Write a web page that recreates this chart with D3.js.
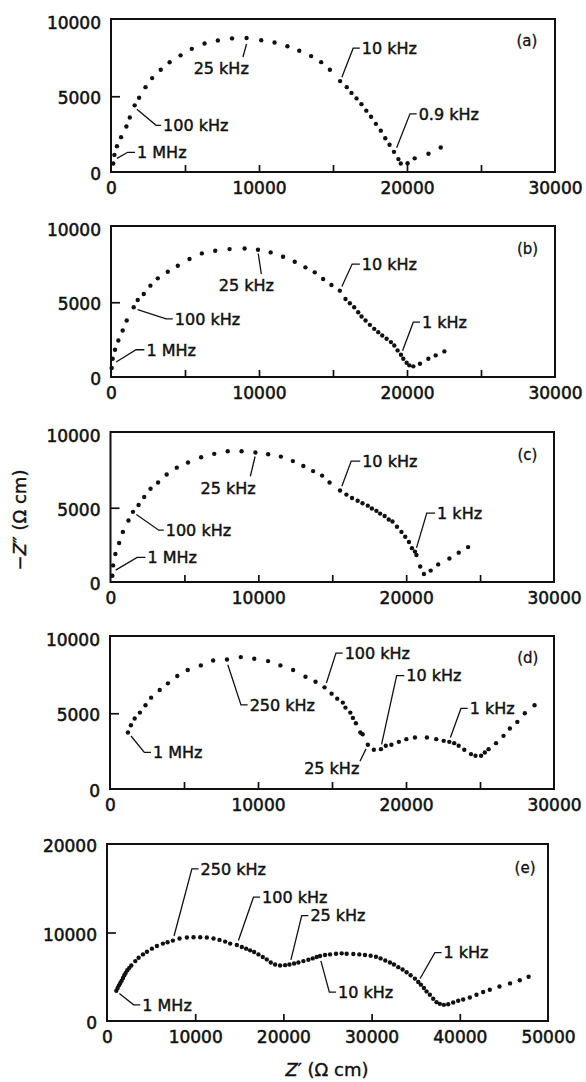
<!DOCTYPE html>
<html>
<head>
<meta charset="utf-8">
<script src="https://cdn.jsdelivr.net/npm/d3@7/dist/d3.min.js"></script>
<style>
  body { margin: 0; background: #fff; }
  svg { display: block; }
  text { font-family: "DejaVu Sans", sans-serif; fill: #111; stroke: #111; }
</style>
</head>
<body>
<svg id="chart"></svg>
<script>
const width = 586;
const height = 1082;

// panel (a)
const aZr = [150,230,400,680,1040,1270,1600,1900,2330,2780,3360,3960,4700,5460,6320,7220,8180,9160,10150,11050,11920,12720,13520,14200,14790,15480,15930,16250,16590,16920,17250,17570,17900,18230,18530,18820,19120,19420,19580,20040,20520,21450,22280];
const aZi = [560,1130,1700,2300,3000,3600,4400,4900,5600,6200,6750,7240,7700,8130,8480,8680,8820,8850,8700,8550,8300,8000,7650,7250,6750,6000,5600,5220,4860,4480,4050,3650,3180,2730,2230,1800,1330,850,560,580,900,1200,1620];

// panel (b)
const bZr = [45,113,271,497,790,1061,1535,1806,2212,2663,3160,3837,4514,5304,6139,7042,8012,9028,9931,10788,11624,12414,13136,13768,14332,14896,15461,15844,16138,16431,16702,16928,17198,17492,17785,18056,18327,18620,18914,19140,19366,19591,19749,19975,20155,20426,20878,21442,21938,22525];
const bZi = [600,1222,1822,2444,3111,3777,4666,5155,5555,6110,6599,7044,7444,7888,8266,8444,8555,8599,8510,8333,8044,7710,7333,6999,6555,6155,5777,5222,4933,4666,4333,4044,3777,3489,3222,3000,2778,2555,2333,2111,1778,1489,1222,955,778,711,889,1222,1444,1711];

// panel (c)
const cZr = [127,177,329,583,836,1216,1520,1900,2280,2710,3217,3800,4483,5243,6130,7017,7929,8866,9803,10664,11525,12336,13045,13704,14312,14818,15527,15958,16338,16718,17047,17402,17681,17985,18238,18542,18820,19073,19377,19681,19935,20188,20391,20594,20695,20948,21202,21658,22164,22924,23557,24190];
const cZi = [419,1117,1884,2628,3373,4140,4722,5187,5722,6280,6699,7234,7699,8048,8397,8629,8800,8800,8720,8600,8443,8141,7815,7466,7164,6699,6164,5885,5652,5466,5303,5140,4954,4792,4606,4443,4210,4071,3722,3373,3047,2698,2279,2047,1814,1047,535,768,1186,1582,1977,2349];

// panel (d)
const dZr = [1212,1414,1667,2020,2399,2778,3358,3914,4545,5252,6136,6969,7903,8838,9747,10681,11514,12373,13206,13888,14494,14973,15352,15731,15908,16236,16413,16615,16918,17069,17423,17827,18306,18635,19013,19518,20023,20604,21412,22043,22548,22927,23255,23558,23937,24392,24694,25073,25326,25578,26083,26588,27018,27523,28028,28684];
const dZi = [3728,4211,4649,5044,5526,6031,6535,6974,7456,7851,8158,8487,8553,8706,8597,8443,8158,7851,7412,7083,6711,6294,5965,5702,5373,5044,4693,4342,3728,3618,2917,2588,2632,2851,2917,3114,3290,3399,3399,3290,3180,3114,3026,2851,2588,2303,2193,2193,2412,2632,3026,3509,3991,4430,4999,5526];

// panel (e)
const eZr = [1057,1208,1359,1510,1661,1812,1962,2113,2302,2529,2755,3208,3585,4076,4529,5095,5661,6340,6869,7473,8227,9058,9812,10567,11322,12077,12756,13398,13964,14719,15285,15775,16228,16681,17172,17662,18115,18568,19059,19625,20191,20682,21210,21701,22267,22833,23323,23776,24154,24720,25286,25965,26607,27173,27928,28607,29249,29890,30494,31022,31551,32079,32532,33023,33513,33966,34419,34910,35287,35589,35928,36230,36608,36985,37363,37740,38193,38684,39250,39816,40382,41137,41891,42646,43401,44500,45700,46800,47800];
const eZi = [3422,3726,4030,4296,4562,4867,5171,5437,5741,6007,6273,6768,7148,7528,7832,8174,8478,8745,8897,9087,9315,9429,9467,9467,9429,9315,9163,8973,8745,8593,8364,8174,7984,7794,7528,7224,6958,6615,6387,6273,6311,6387,6501,6615,6768,6920,7072,7224,7338,7452,7528,7604,7642,7604,7566,7528,7452,7376,7262,7072,6844,6615,6387,6083,5817,5513,5171,4791,4410,4106,3726,3346,2966,2509,2129,1939,1825,1901,2091,2281,2433,2661,2966,3270,3536,3900,4250,4600,5000];

// frequency annotations: leader points (Z', -Z'') and label
const aNotes = [
  {t: '1 MHz', pts: [[400,900],[1128,1300],[1625,1300]], side: 'r'},
  {t: '100 kHz', pts: [[1750,4150],[3047,3079],[3385,3079]], side: 'r'},
  {t: '25 kHz', pts: [[9160,8450],[8915,7593]], side: 'm', at: [7448,6850]},
  {t: '10 kHz', pts: [[15600,6250],[16363,8172],[16815,8172]], side: 'r'},
  {t: '0.9 kHz', pts: [[19300,1600],[20200,3843],[20652,3843]], side: 'r'}
];
const bNotes = [
  {t: '1 MHz', pts: [[350,1000],[1693,1822],[2257,1822]], side: 'r'},
  {t: '100 kHz', pts: [[1800,4500],[3724,3889],[4175,3889]], side: 'r'},
  {t: '25 kHz', pts: [[9950,8250],[10157,6888]], side: 'm', at: [9141,6110]},
  {t: '10 kHz', pts: [[15600,6050],[16295,7555],[16815,7555]], side: 'r'},
  {t: '1 kHz', pts: [[19700,1750],[20426,3666],[20877,3666]], side: 'r'}
];
const cNotes = [
  {t: '1 MHz', pts: [[350,800],[1802,1652],[2365,1652]], side: 'r'},
  {t: '100 kHz', pts: [[1750,4550],[3265,3487],[3603,3487]], side: 'r'},
  {t: '25 kHz', pts: [[9780,8450],[9458,7111]], side: 'm', at: [7950,6309]},
  {t: '10 kHz', pts: [[15650,6450],[16282,8144],[16890,8144]], side: 'r'},
  {t: '1 kHz', pts: [[20700,2300],[21394,4634],[21957,4634]], side: 'r'}
];
const dNotes = [
  {t: '1 MHz', pts: [[1420,3500],[2320,2420],[2770,2420]], side: 'r'},
  {t: '250 kHz', pts: [[7960,8200],[8850,5548],[9300,5548]], side: 'r'},
  {t: '100 kHz', pts: [[14620,7000],[15269,8972],[15720,8972]], side: 'r'},
  {t: '10 kHz', pts: [[18350,2950],[19367,7488],[19886,7488]], side: 'r'},
  {t: '25 kHz', pts: [[17300,2650],[16891,1826]], side: 'l', at: [16845,1400]},
  {t: '1 kHz', pts: [[23000,3400],[23714,5319],[24164,5319]], side: 'r'}
];
const eNotes = [
  {t: '1 MHz', pts: [[1400,3100],[3019,1825],[3774,1825]], side: 'r'},
  {t: '250 kHz', pts: [[7600,9600],[9624,17185],[10379,17185]], side: 'r'},
  {t: '100 kHz', pts: [[14900,9100],[16606,13991],[17360,13991]], side: 'r'},
  {t: '25 kHz', pts: [[20850,6900],[22078,11900],[22833,11900]], side: 'r'},
  {t: '10 kHz', pts: [[24250,6800],[25210,3270],[25965,3270]], side: 'r'},
  {t: '1 kHz', pts: [[35500,4800],[37174,7718],[37929,7718]], side: 'r'}
];

// tick values
const xMarks30 = [5000,10000,15000,20000,25000];
const xLabels30 = [0,10000,20000,30000];
const xMarks50 = [10000,20000,30000,40000];
const xLabels50 = [0,10000,20000,30000,40000,50000];
const yMarks10 = [5000];
const yLabels10 = [0,5000,10000];
const yMarks20 = [10000];
const yLabels20 = [0,10000,20000];
const panelTags = ['(a)','(b)','(c)','(d)','(e)'];
const tagPos = [[28100,8700],[28150,8600],[28200,8600],[28230,8650],[47400,17350]];

const panels = [
  {zr: aZr, zi: aZi, notes: aNotes, l: 111, r: 555, t: 19, b: 172, xMax: 30000, yMax: 10100, xm: xMarks30, xl: xLabels30, ym: yMarks10, yl: yLabels10},
  {zr: bZr, zi: bZi, notes: bNotes, l: 111, r: 555, t: 226, b: 377, xMax: 30000, yMax: 10100, xm: xMarks30, xl: xLabels30, ym: yMarks10, yl: yLabels10},
  {zr: cZr, zi: cZi, notes: cNotes, l: 110.5, r: 554, t: 432, b: 582, xMax: 30000, yMax: 10100, xm: xMarks30, xl: xLabels30, ym: yMarks10, yl: yLabels10},
  {zr: dZr, zi: dZi, notes: dNotes, l: 110, r: 554, t: 636, b: 789, xMax: 30000, yMax: 10100, xm: xMarks30, xl: xLabels30, ym: yMarks10, yl: yLabels10},
  {zr: eZr, zi: eZi, notes: eNotes, l: 107, r: 548, t: 844, b: 1021, xMax: 50000, yMax: 20000, xm: xMarks50, xl: xLabels50, ym: yMarks20, yl: yLabels20}
];

const svg = d3.select('#chart').attr('width', width).attr('height', height);
svg.append('rect').attr('width', width).attr('height', height).attr('fill', '#fff');

panels.forEach((p, i) => {
  const x = d3.scaleLinear().domain([0, p.xMax]).range([p.l, p.r]);
  const y = d3.scaleLinear().domain([0, p.yMax]).range([p.b, p.t]);
  const g = svg.append('g');

  // inward tick marks
  g.append('g').attr('transform', `translate(0,${p.b})`)
    .call(d3.axisBottom(x).tickValues(p.xm).tickSize(-7).tickFormat(''))
    .call(a => a.select('.domain').remove())
    .selectAll('line').attr('stroke', '#111').attr('stroke-width', 1.7);
  g.append('g').attr('transform', `translate(${p.l},0)`)
    .call(d3.axisLeft(y).tickValues(p.ym).tickSize(-9).tickFormat(''))
    .call(a => a.select('.domain').remove())
    .selectAll('line').attr('stroke', '#111').attr('stroke-width', 1.7);

  // tick labels
  const xa = g.append('g').attr('transform', `translate(0,${p.b})`)
    .call(d3.axisBottom(x).tickValues(p.xl).tickSize(0).tickPadding(10).tickFormat(d3.format('d')));
  xa.select('.domain').remove();
  xa.selectAll('text').style('font-size', '17px').style('font-family', '"DejaVu Sans", sans-serif')
    .attr('fill', '#111').attr('stroke', '#111').attr('stroke-width', 0.55);
  const ya = g.append('g').attr('transform', `translate(${p.l},0)`)
    .call(d3.axisLeft(y).tickValues(p.yl).tickSize(0).tickPadding(10).tickFormat(d3.format('d')));
  ya.select('.domain').remove();
  ya.selectAll('text').style('font-size', '17px').style('font-family', '"DejaVu Sans", sans-serif')
    .attr('fill', '#111').attr('stroke', '#111').attr('stroke-width', 0.55).attr('dy', '0.45em');

  // frame
  g.append('rect').attr('x', p.l).attr('y', p.t).attr('width', p.r - p.l).attr('height', p.b - p.t)
    .attr('fill', 'none').attr('stroke', '#111').attr('stroke-width', 2);

  // leaders
  const line = d3.line().x(d => x(d[0])).y(d => y(d[1]));
  g.selectAll('.leader').data(p.notes).enter().append('path')
    .attr('class', 'leader').attr('d', d => line(d.pts))
    .attr('fill', 'none').attr('stroke', '#111').attr('stroke-width', 1.3);
  g.selectAll('.note').data(p.notes).enter().append('text')
    .attr('class', 'note')
    .attr('x', d => d.side === 'r' ? x(d.pts[d.pts.length - 1][0]) + 2 : x(d.at[0]))
    .attr('y', d => d.side === 'r' ? y(d.pts[d.pts.length - 1][1]) : y(d.at[1]))
    .attr('dy', '0.36em')
    .attr('text-anchor', d => d.side === 'r' ? 'start' : (d.side === 'l' ? 'end' : 'middle'))
    .style('font-size', '16px').attr('stroke-width', 0.45)
    .text(d => d.t);

  // points
  const pts = p.zr.map((v, k) => [v, p.zi[k]]);
  g.selectAll('.pt').data(pts).enter().append('circle')
    .attr('class', 'pt')
    .attr('cx', d => x(d[0])).attr('cy', d => y(d[1]))
    .attr('r', 2.2).attr('fill', '#111');

  g.append('text').attr('x', x(tagPos[i][0])).attr('y', y(tagPos[i][1]))
    .attr('dy', '0.36em').attr('text-anchor', 'middle')
    .style('font-size', '15px').attr('stroke-width', 0.3).text(panelTags[i]);
});

// axis titles
const yt = svg.append('text').attr('transform', 'translate(20,520) rotate(-90)')
  .attr('text-anchor', 'middle').attr('dy', '0.36em').style('font-size', '18px').attr('stroke-width', 0.4);
yt.append('tspan').text('\u2212');
yt.append('tspan').style('font-style', 'italic').text('Z');
yt.append('tspan').text('\u2033 (\u03A9 cm)');

const xt = svg.append('text').attr('x', 327).attr('y', 1070)
  .attr('text-anchor', 'middle').attr('dy', '0.36em').style('font-size', '18px').attr('stroke-width', 0.4);
xt.append('tspan').style('font-style', 'italic').text('Z');
xt.append('tspan').text('\u2032 (\u03A9 cm)');
</script>
</body>
</html>
